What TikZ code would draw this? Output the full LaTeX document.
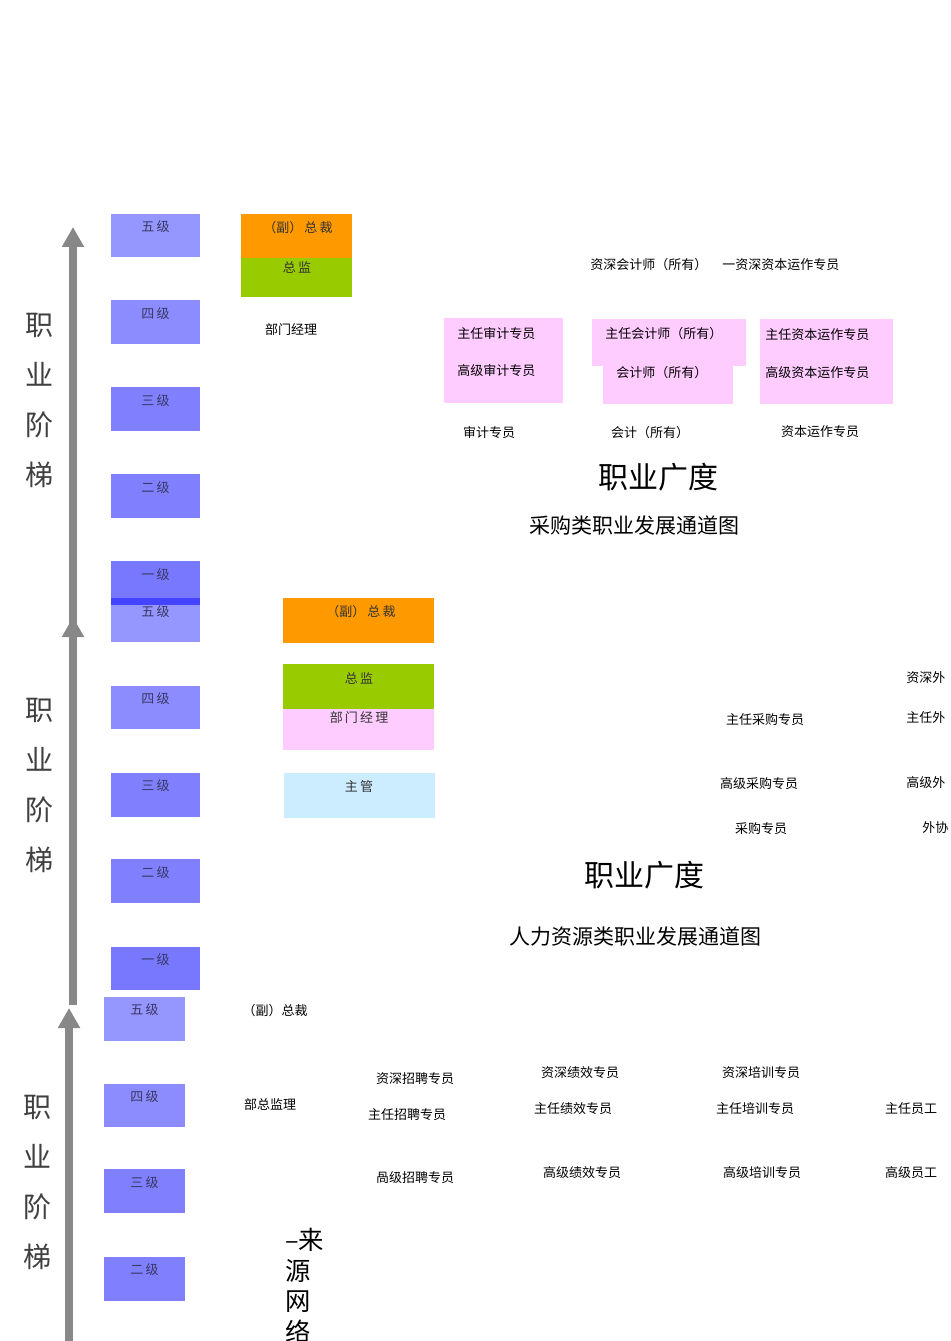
\documentclass[tikz,border=0pt]{standalone}
\usepackage{fontspec}
\setmainfont{Noto Sans CJK SC}
\usetikzlibrary{arrows.meta}
\definecolor{lvlpale}{RGB}{150,150,255}
\definecolor{lvlmid}{RGB}{140,140,255}
\definecolor{lvlblue}{RGB}{128,128,255}
\definecolor{lvldeep}{RGB}{120,120,255}
\definecolor{lvlband}{RGB}{68,68,255}
\definecolor{lvltext}{RGB}{55,55,100}
\definecolor{vporange}{RGB}{255,153,0}
\definecolor{dirgreen}{RGB}{153,204,0}
\definecolor{mgrpink}{RGB}{255,204,255}
\definecolor{supblue}{RGB}{204,236,255}
\definecolor{laddergray}{RGB}{136,136,136}

\begin{document}
\begin{tikzpicture}[x=0.75pt,y=-0.75pt,
    ladder/.style={line width=6pt,draw=laddergray,-{Triangle[width=15.75pt,length=15pt]}},
    lvltxt/.style={font=\fontsize{9.75}{11}\selectfont,text=lvltext,inner sep=0pt},
    rank/.style={font=\fontsize{9.75}{11}\selectfont,text=black!80,inner sep=0pt},
    job/.style={font=\fontsize{9.75}{11}\selectfont,inner sep=0pt},
    sidetxt/.style={font=\fontsize{21}{37.5}\selectfont,align=center,text=black!75},
    breadth/.style={font=\fontsize{22.5}{26}\selectfont},
    chartname/.style={font=\fontsize{15.75}{18}\selectfont}]
  \useasboundingbox[fill=white] (0,0) rectangle (950,1341);

  % ladders
  \coordinate (foot1) at (73,632);
  \coordinate (up1) at (73,227);
  \coordinate (foot2) at (73,1005);
  \coordinate (up2) at (73,617);
  \coordinate (foot3) at (69,1341);
  \coordinate (up3) at (69,1008);
  \draw[ladder] (foot1) -- (up1);
  \draw[ladder] (foot2) -- (up2);
  \draw[ladder] (foot3) -- (up3);

  \node[sidetxt] (side1) at (40,400) {职\\业\\阶\\梯};
  \node[sidetxt] (side2) at (40,785) {职\\业\\阶\\梯};
  \node[sidetxt] (side3) at (37,1182) {职\\业\\阶\\梯};

  % level boxes, first chart
  \fill[lvlpale] (111,214) rectangle (200,257);
  \fill[lvlmid] (111,300) rectangle (200,344);
  \fill[lvlblue] (111,387) rectangle (200,431);
  \fill[lvlblue] (111,474) rectangle (200,518);
  \fill[lvldeep] (111,561) rectangle (200,598);
  \fill[lvlpale] (111,605) rectangle (200,642);
  \fill[lvlband] (111,598) rectangle (200,605);
  \node[lvltxt] (a5) at (155.5,227) {五\,级};
  \node[lvltxt] (a4) at (155.5,314) {四\,级};
  \node[lvltxt] (a3) at (155.5,401) {三\,级};
  \node[lvltxt] (a2) at (155.5,488) {二\,级};
  \node[lvltxt] (a1) at (155.5,575) {一\,级};

  % level boxes, second chart
  \fill[lvlmid] (111,686) rectangle (200,729);
  \fill[lvlblue] (111,773) rectangle (200,817);
  \fill[lvlblue] (111,859) rectangle (200,903);
  \fill[lvldeep] (111,947) rectangle (200,990);
  \node[lvltxt] (b5) at (155.5,612) {五\,级};
  \node[lvltxt] (b4) at (155.5,699) {四\,级};
  \node[lvltxt] (b3) at (155.5,786) {三\,级};
  \node[lvltxt] (b2) at (155.5,873) {二\,级};
  \node[lvltxt] (b1) at (155.5,960) {一\,级};

  % level boxes, third chart
  \fill[lvlpale] (104,997) rectangle (185,1041);
  \fill[lvlmid] (104,1084) rectangle (185,1127);
  \fill[lvlblue] (104,1169) rectangle (185,1213);
  \fill[lvlblue] (104,1257) rectangle (185,1301);
  \node[lvltxt] (c5) at (144.5,1010) {五\,级};
  \node[lvltxt] (c4) at (144.5,1097) {四\,级};
  \node[lvltxt] (c3) at (144.5,1183) {三\,级};
  \node[lvltxt] (c2) at (144.5,1270) {二\,级};

  % first chart: ranks
  \fill[vporange] (241,214) rectangle (352,258);
  \fill[dirgreen] (241,258) rectangle (352,297);
  \node[rank] (vp1) at (298,228) {（副）\,总\,裁};
  \node[rank] (dir1) at (297,267) {总\,监};
  \node[job] (mgr1) at (291,330) {部门经理};

  % first chart: finance tracks
  \fill[mgrpink] (444,318) rectangle (563,403);
  \fill[mgrpink] (592,319) rectangle (746,366);
  \fill[mgrpink] (603,366) rectangle (733,404);
  \fill[mgrpink] (760,319) rectangle (893,404);
  \node[job,anchor=west] (sracct) at (590,265) {资深会计师（所有）};
  \node[job,anchor=west] (srcap) at (722,265) {一资深资本运作专员};
  \node[job,anchor=west] (chaud) at (457,334) {主任审计专员};
  \node[job,anchor=west] (hiaud) at (457,371) {高级审计专员};
  \node[job,anchor=west] (chacct) at (605,334) {主任会计师（所有）};
  \node[job,anchor=west] (acct) at (616,373) {会计师（所有）};
  \node[job,anchor=west] (chcap) at (765,335) {主任资本运作专员};
  \node[job,anchor=west] (hicap) at (765,373) {高级资本运作专员};
  \node[job] (aud) at (489,433) {审计专员};
  \node[job] (clerk) at (650,433) {会计（所有）};
  \node[job] (cap) at (820,432) {资本运作专员};
  \node[breadth] (wide1) at (658,477) {职业广度};
  \node[chartname] (title1) at (634,526) {采购类职业发展通道图};

  % second chart: ranks
  \fill[vporange] (283,598) rectangle (434,643);
  \fill[dirgreen] (283,664) rectangle (434,709);
  \fill[mgrpink] (283,709) rectangle (434,750);
  \fill[supblue] (284,773) rectangle (435,818);
  \node[rank] (vp2) at (361,612) {（副）\,总\,裁};
  \node[rank] (dir2) at (359,678) {总\,监};
  \node[rank] (mgr2) at (359,718) {部\,门\,经\,理};
  \node[rank] (sup2) at (359,787) {主\,管};

  % second chart: purchasing
  \node[job] (chbuy) at (765,720) {主任采购专员};
  \node[job] (hibuy) at (759,784) {高级采购专员};
  \node[job] (buy) at (761,829) {采购专员};
  \node[job,anchor=west] (srout) at (906,678) {资深外};
  \node[job,anchor=west] (chout) at (906,718) {主任外};
  \node[job,anchor=west] (hiout) at (906,783) {高级外};
  \node[job,anchor=west] (out) at (922,828) {外协};
  \node[breadth] (wide2) at (644,875) {职业广度};
  \node[chartname] (title2) at (635,937) {人力资源类职业发展通道图};

  % third chart
  \node[job] (vp3) at (275,1011) {（副）总裁};
  \node[job] (dir3) at (270,1105) {部总监理};
  \node[job] (srhire) at (415,1079) {资深招聘专员};
  \node[job] (chhire) at (407,1115) {主任招聘专员};
  \node[job] (hihire) at (415,1178) {咼级招聘专员};
  \node[job] (srperf) at (580,1073) {资深绩效专员};
  \node[job] (chperf) at (573,1109) {主任绩效专员};
  \node[job] (hiperf) at (582,1173) {高级绩效专员};
  \node[job] (srtrain) at (761,1073) {资深培训专员};
  \node[job] (chtrain) at (755,1109) {主任培训专员};
  \node[job] (hitrain) at (762,1173) {高级培训专员};
  \node[job] (chstaff) at (911,1109) {主任员工};
  \node[job] (histaff) at (911,1173) {高级员工};
  \node[font=\fontsize{19}{23}\selectfont,align=left,anchor=north west,inner sep=0pt] (src) at (285,1228) {–来\\源\\网\\络};
\end{tikzpicture}
\end{document}
